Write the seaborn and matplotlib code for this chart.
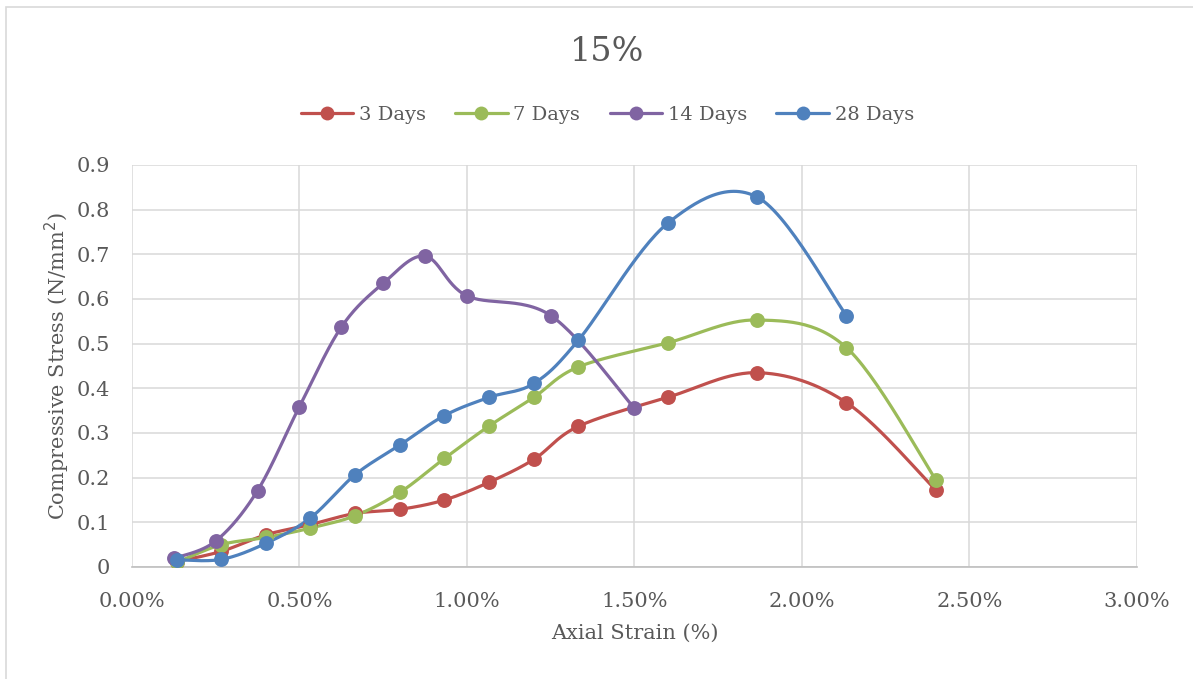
import numpy as np
import pandas as pd
import matplotlib
matplotlib.use("Agg")
import matplotlib.pyplot as plt
from matplotlib.lines import Line2D
from matplotlib.patches import Rectangle
import seaborn as sns

# Axial strain (%) readings
strain_a = [0.133, 0.267, 0.400, 0.533, 0.667, 0.800, 0.933, 1.067, 1.200,
            1.333, 1.600, 1.867, 2.133, 2.400]
strain_b = [0.125, 0.250, 0.375, 0.500, 0.625, 0.750, 0.875, 1.000, 1.250, 1.500]

# Compressive stress (N/mm²) per curing age
stress_3d = [0.012, 0.035, 0.072, 0.095, 0.120, 0.129, 0.150, 0.190, 0.241,
             0.315, 0.380, 0.435, 0.368, 0.172]
stress_7d = [0.010, 0.050, 0.066, 0.087, 0.115, 0.167, 0.243, 0.316, 0.380,
             0.448, 0.502, 0.553, 0.491, 0.195]
stress_14d = [0.019, 0.058, 0.171, 0.359, 0.537, 0.635, 0.696, 0.607, 0.563, 0.355]
stress_28d = [0.016, 0.017, 0.053, 0.110, 0.207, 0.273, 0.339, 0.380, 0.411,
              0.508, 0.770, 0.828, 0.563]

series = [
    ("3 Days", strain_a, stress_3d, "#C0504D"),
    ("7 Days", strain_a, stress_7d, "#9BBB59"),
    ("14 Days", strain_b, stress_14d, "#8064A2"),
    ("28 Days", strain_a[:len(stress_28d)], stress_28d, "#4F81BD"),
]

x_ticks = [0.0, 0.5, 1.0, 1.5, 2.0, 2.5, 3.0]
y_ticks = [0.0, 0.1, 0.2, 0.3, 0.4, 0.5, 0.6, 0.7, 0.8, 0.9]


def smooth(xs, ys, n=30):
    """Cardinal-spline (Catmull-Rom) smoothing through every point."""
    p = np.column_stack([xs, ys]).astype(float)
    ext = np.vstack([p[0], p, p[-1]])
    out = []
    for i in range(len(p) - 1):
        p0, p1, p2, p3 = ext[i], ext[i + 1], ext[i + 2], ext[i + 3]
        c1 = p1 + (p2 - p0) / 6.0
        c2 = p2 - (p3 - p1) / 6.0
        t = np.linspace(0, 1, n, endpoint=(i == len(p) - 2))[:, None]
        seg = ((1 - t) ** 3) * p1 + 3 * ((1 - t) ** 2) * t * c1 \
            + 3 * (1 - t) * t ** 2 * c2 + t ** 3 * p2
        out.append(seg)
    out = np.vstack(out)
    return out[:, 0], out[:, 1]


sns.set_theme(style="white")
plt.rcParams["font.family"] = ["DejaVu Serif"]
text_color = "#595959"

fig = plt.figure(figsize=(11.93, 6.79), dpi=100)
ax = fig.add_axes([0.1106, 0.165, 0.8424, 0.592])

for name, xs, ys, col in series:
    sx, sy = smooth(xs, ys)
    curve = pd.DataFrame({"x": sx, "y": sy})
    sns.lineplot(data=curve, x="x", y="y", sort=False, estimator=None,
                 color=col, linewidth=2.3, ax=ax, zorder=3)
    pts = pd.DataFrame({"x": xs, "y": ys})
    sns.scatterplot(data=pts, x="x", y="y", color=col, s=115,
                    edgecolor=col, linewidth=0, ax=ax, zorder=4)

ax.set_xlim(0, 3.0)
ax.set_ylim(0, 0.9)
ax.set_xticks(x_ticks)
ax.set_xticklabels([f"{v:.2f}%" for v in x_ticks])
ax.set_yticks(y_ticks)
ax.set_yticklabels(["0"] + [f"{v:.1f}" for v in y_ticks[1:]])
ax.grid(True, color="#d9d9d9", linewidth=1.1)
ax.set_axisbelow(True)
for side in ["top", "right", "left"]:
    ax.spines[side].set_visible(False)
ax.spines["bottom"].set_color("#bfbfbf")
ax.spines["bottom"].set_linewidth(1.2)
ax.tick_params(axis="both", length=0, labelsize=15, colors=text_color)
ax.tick_params(axis="x", pad=18)
ax.tick_params(axis="y", pad=16)

ax.set_xlabel("Axial Strain (%)", fontsize=15, color=text_color, labelpad=9)
ax.set_ylabel("Compressive Stress (N/mm$^2$)", fontsize=15, color=text_color,
              labelpad=3)

fig.text(0.509, 0.924, "15%", ha="center", va="center", fontsize=24,
         color=text_color)

handles = [Line2D([0], [0], color=col, linewidth=2.3, marker="o",
                  markersize=10, markerfacecolor=col, markeredgewidth=0)
           for _, _, _, col in series]
labels = [name for name, _, _, _ in series]
fig.legend(handles, labels, loc="center", bbox_to_anchor=(0.509, 0.831),
           ncol=4, frameon=False, fontsize=14, labelcolor=text_color,
           handlelength=2.7, handletextpad=0.3, columnspacing=1.5)

fig.patches.append(Rectangle((6 / 1193, -0.01), 1.05, 1 - 7 / 679 + 0.01,
                             transform=fig.transFigure, fill=False,
                             edgecolor="#d9d9d9", linewidth=1.2))

fig.savefig("out.png", dpi=100)
